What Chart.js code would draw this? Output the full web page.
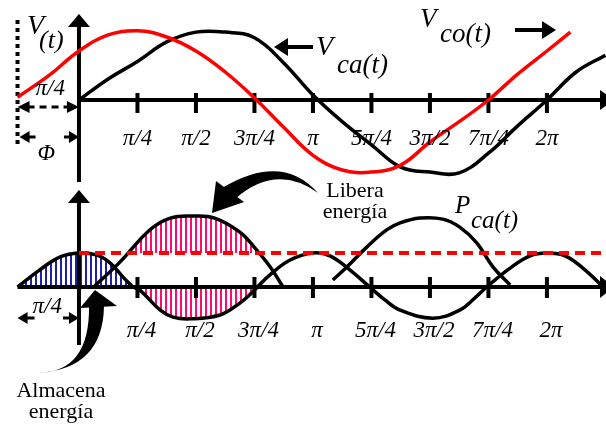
<!DOCTYPE html>
<html>
<head>
<meta charset="utf-8">
<script src="https://cdn.jsdelivr.net/npm/chart.js@4.4.1/dist/chart.umd.min.js"></script>
<style>
  html, body { margin: 0; padding: 0; background: #fff; }
  #wrap { position: relative; width: 606px; height: 425px; }
</style>
</head>
<body>
<div id="wrap"><canvas id="diagram" width="606" height="425"></canvas></div>
<script>
// x is measured in quarter periods (1 = π/4); voltages in peak units,
// power in units of its mean value
const tickPos = [1, 2, 3, 4, 5, 6, 7, 8];
const tickLabels = ['π/4', 'π/2', '3π/4', 'π', '5π/4', '3π/2', '7π/4', '2π'];

// capacitor voltage V_ca(t)
const vcaX = [0, 0.5, 1, 1.5, 2, 2.5, 3, 3.5, 4, 4.5, 5, 5.5, 6, 6.5, 7, 7.5, 8, 8.5, 9];
const vcaY = [0, 0.3, 0.55, 0.83, 0.97, 0.97, 0.89, 0.53, 0.07, -0.31, -0.64, -0.96, -1.03, -1.04, -0.76, -0.37, 0, 0.4, 0.64];

// source voltage V_co(t), leading by Φ
const vcoX = [-1.05, -0.5, 0, 0.5, 1, 1.5, 2, 2.5, 3, 3.5, 4, 4.5, 5, 5.5, 6, 6.5, 7, 7.5, 8, 8.4];
const vcoY = [0.04, 0.36, 0.7, 0.93, 0.99, 0.9, 0.7, 0.4, 0.03, -0.39, -0.79, -1.0, -1.03, -0.93, -0.6, -0.31, 0, 0.37, 0.7, 0.97];

// power P_ca(t): stored part, released part and the rest of the cycle
const storeX = [-1.05, -0.67, -0.32, 0, 0.31, 0.53, 0.75, 0.92];
const storeY = [0, 0.49, 0.86, 0.97, 0.91, 0.69, 0.29, 0];
const releaseLowX = [0.92, 1.04, 1.39, 1.61, 1.9, 2.41, 2.75, 2.97, 3.05];
const releaseLowY = [0, -0.09, -0.66, -0.86, -0.91, -0.8, -0.46, -0.14, 0];
const releaseHighX = [0.27, 0.7, 1.21, 1.56, 1.95, 2.32, 2.75, 3.01, 3.27, 3.49];
const releaseHighY = [0.03, 0.71, 1.63, 1.97, 2.03, 1.97, 1.57, 1.11, 0.57, 0];
const waveX = [3.05, 3.26, 3.61, 4.0, 4.29, 4.63, 4.97, 5.23, 5.49, 6.05, 6.51, 6.77, 6.97, 7.37, 7.71, 8.0, 8.31, 8.65, 8.96];
const waveY = [0, 0.34, 0.77, 0.97, 0.89, 0.49, 0, -0.37, -0.66, -0.89, -0.66, -0.31, 0, 0.54, 0.89, 0.97, 0.89, 0.49, 0];
const humpX = [4.34, 4.58, 4.92, 5.26, 5.49, 5.83, 6.22, 6.51, 6.8, 7.08, 7.37];
const humpY = [0.2, 0.57, 1.14, 1.63, 1.83, 1.97, 1.94, 1.71, 1.26, 0.57, 0.06];
const meanPower = 0.97;

const pts = (xs, ys) => xs.map((x, i) => ({ x: x, y: ys[i] }));

const ctx = document.getElementById('diagram').getContext('2d');

function hatch(color) {
    const c = document.createElement('canvas');
    c.width = 5;
    c.height = 4;
    const g = c.getContext('2d');
    g.fillStyle = color;
    g.fillRect(0, 0, 2, 4);
    return ctx.createPattern(c, 'repeat');
}
const blueHatch = hatch('#1f1fa3');
const pinkHatch = hatch('#ff0a6c');

function head(c, tx, ty, ang, len, half) {
    const bx = tx - Math.cos(ang) * len, by = ty - Math.sin(ang) * len;
    const nx = -Math.sin(ang) * half, ny = Math.cos(ang) * half;
    c.beginPath();
    c.moveTo(tx, ty);
    c.lineTo(bx + nx, by + ny);
    c.lineTo(bx - nx, by - ny);
    c.closePath();
    c.fill();
}

function seg(c, x1, y1, x2, y2) {
    c.beginPath();
    c.moveTo(x1, y1);
    c.lineTo(x2, y2);
    c.stroke();
}

function text(c, s, x, y, font, align) {
    c.font = font;
    c.textAlign = align || 'left';
    c.fillText(s, x, y);
}

const diagram = {
    id: 'diagram',
    beforeDatasetsDraw(chart) {
        const c = chart.ctx;
        const { x, yTop, yBot } = chart.scales;
        const x0 = x.getPixelForValue(0);
        const xl = x.getPixelForValue(vcoX[0]);
        const yt = yTop.getPixelForValue(0);
        const yb = yBot.getPixelForValue(0);
        const w = chart.width;
        c.save();
        c.strokeStyle = '#000';
        c.fillStyle = '#000';
        c.lineWidth = 4;

        // upper axes
        seg(c, x0, yt, w, yt);
        head(c, w + 8, yt, 0, 14, 10);
        seg(c, x0, yt + 82, x0, yt - 76);
        head(c, x0, yt - 86, -Math.PI / 2, 13, 11);
        tickPos.forEach(t => seg(c, x.getPixelForValue(t), yt - 7, x.getPixelForValue(t), yt + 13));

        // lower axes
        seg(c, xl, yb, w, yb);
        head(c, w + 8, yb, 0, 14, 11);
        seg(c, x0, yb + 58, x0, yb - 86);
        head(c, x0, yb - 97, -Math.PI / 2, 13, 11);
        tickPos.forEach(t => seg(c, x.getPixelForValue(t), yb - 10, x.getPixelForValue(t), yb + 11));

        // phase construction on the left
        c.setLineDash([4, 4]);
        seg(c, xl, yt - 80, xl, yt + 47);
        c.setLineDash([7, 5]);
        c.lineWidth = 3;
        seg(c, xl + 10, yt + 7, x0 - 10, yt + 7);
        c.setLineDash([]);
        head(c, xl, yt + 7, Math.PI, 12, 6);
        head(c, x0, yt + 7, 0, 12, 6);
        seg(c, xl + 8, yt + 37, xl + 18, yt + 37);
        seg(c, x0 - 15, yt + 37, x0 - 8, yt + 37);
        head(c, xl + 2, yt + 37, Math.PI, 10, 6);
        head(c, x0, yt + 37, 0, 10, 6);
        seg(c, xl + 8, yb + 31, xl + 17, yb + 31);
        seg(c, x0 - 16, yb + 31, x0 - 8, yb + 31);
        head(c, xl, yb + 31, Math.PI, 10, 6);
        head(c, x0, yb + 31, 0, 10, 6);
        c.restore();
    },
    afterDatasetsDraw(chart) {
        const c = chart.ctx;
        const { x, yTop, yBot } = chart.scales;
        const x0 = x.getPixelForValue(0);
        const xl = x.getPixelForValue(vcoX[0]);
        const yt = yTop.getPixelForValue(0);
        const yb = yBot.getPixelForValue(0);
        const serif = '"Liberation Serif", "Times New Roman", serif';
        c.save();
        c.fillStyle = '#000';
        c.strokeStyle = '#000';
        c.textBaseline = 'middle';
        tickPos.forEach((t, i) => {
            text(c, tickLabels[i], x.getPixelForValue(t), yt + 39, 'italic 23px ' + serif, 'center');
            text(c, tickLabels[i], x.getPixelForValue(t) + 4, yb + 44, 'italic 23px ' + serif, 'center');
        });
        text(c, 'π/4', (xl + x0) / 2 + 2, yt - 11, 'italic 23px ' + serif, 'center');
        text(c, 'Φ', (xl + x0) / 2 - 2, yt + 54, 'italic 23px ' + serif, 'center');
        text(c, 'π/4', (xl + x0) / 2 - 1, yb + 20, 'italic 23px ' + serif, 'center');

        c.textBaseline = 'alphabetic';
        text(c, 'V', 27, 34, 'italic 28px ' + serif);
        text(c, '(t)', 39, 48, 'italic 26px ' + serif);
        text(c, 'V', 316, 55, 'italic 28px ' + serif);
        text(c, 'ca(t)', 337, 73, 'italic 27px ' + serif);
        text(c, 'V', 420, 27, 'italic 27px ' + serif);
        text(c, 'co(t)', 440, 42, 'italic 27px ' + serif);
        text(c, 'P', 455, 213, 'italic 25px ' + serif);
        text(c, 'ca(t)', 471, 228, 'italic 25px ' + serif);
        text(c, 'Libera', 355, 197, '22px ' + serif, 'center');
        text(c, 'energía', 355, 218, '22px ' + serif, 'center');
        text(c, 'Almacena', 61, 397, '22px ' + serif, 'center');
        text(c, 'energía', 61, 418, '22px ' + serif, 'center');

        // straight pointers next to the voltage names
        c.lineWidth = 4;
        seg(c, 313, 47, 285, 47);
        head(c, 274, 47, Math.PI, 14, 9);
        seg(c, 515, 30, 544, 30);
        head(c, 556, 30, 0, 14, 9);

        // curved pointers to the shaded areas
        c.beginPath();
        c.moveTo(318, 193);
        c.quadraticCurveTo(282, 152, 222, 188);
        c.lineTo(235, 199);
        c.quadraticCurveTo(276, 163, 318, 193);
        c.fill();
        c.beginPath();
        c.moveTo(212, 213);
        c.lineTo(216, 181);
        c.lineTo(244, 202);
        c.closePath();
        c.fill();

        c.beginPath();
        c.moveTo(38, 373);
        c.quadraticCurveTo(90, 372, 89, 306);
        c.lineTo(104, 306);
        c.quadraticCurveTo(103, 369, 38, 373);
        c.fill();
        c.beginPath();
        c.moveTo(95, 290);
        c.lineTo(80, 308);
        c.lineTo(117, 306);
        c.closePath();
        c.fill();
        c.restore();
    }
};

const line = { fill: false, borderColor: '#000', borderWidth: 3.5, tension: 0.4, clip: false };

new Chart(ctx, {
    type: 'line',
    data: {
        datasets: [
            Object.assign({}, line, { data: pts(vcoX, vcoY), yAxisID: 'yTop', borderColor: '#ff0000' }),
            Object.assign({}, line, { data: pts(vcaX, vcaY), yAxisID: 'yTop' }),
            Object.assign({}, line, { data: [{ x: 0, y: meanPower }, { x: 9.05, y: meanPower }], yAxisID: 'yBot', borderColor: '#ff0000', borderWidth: 4, borderDash: [10, 6], tension: 0 }),
            Object.assign({}, line, { data: pts(storeX, storeY), yAxisID: 'yBot', fill: 'origin', backgroundColor: blueHatch }),
            Object.assign({}, line, { data: pts(releaseLowX, releaseLowY), yAxisID: 'yBot', fill: 'origin', backgroundColor: pinkHatch }),
            Object.assign({}, line, { data: pts(releaseHighX, releaseHighY), yAxisID: 'yBot', fill: { target: { value: meanPower }, above: pinkHatch, below: 'rgba(0,0,0,0)' } }),
            Object.assign({}, line, { data: pts(waveX, waveY), yAxisID: 'yBot' }),
            Object.assign({}, line, { data: pts(humpX, humpY), yAxisID: 'yBot' })
        ]
    },
    options: {
        responsive: false,
        animation: false,
        layout: { padding: 0 },
        elements: { point: { radius: 0 } },
        plugins: {
            legend: { display: false },
            tooltip: { enabled: false },
            filler: { drawTime: 'beforeDraw' }
        },
        scales: {
            x: { type: 'linear', display: false, min: -1.35, max: 9.01 },
            yTop: { type: 'linear', display: false, min: -4.643, max: 1.4286 },
            yBot: { type: 'linear', display: false, min: -3.943, max: 8.2 }
        }
    },
    plugins: [diagram]
});
</script>
</body>
</html>
